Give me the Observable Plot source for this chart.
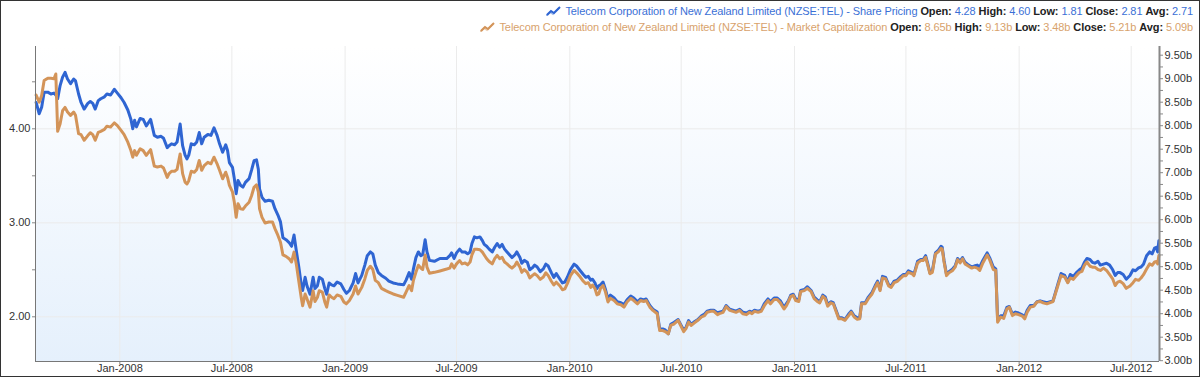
<!DOCTYPE html>
<html><head><meta charset="utf-8">
<script src="https://cdn.jsdelivr.net/npm/d3@7"></script>
<script src="https://cdn.jsdelivr.net/npm/@observablehq/plot@0.6"></script>
<style>
body{margin:0;background:#fff;}
#wrap{position:relative;width:1200px;height:377px;overflow:hidden;font-family:"Liberation Sans",Arial,sans-serif;background:#fff;}
#frame{position:absolute;left:0;top:0;width:1200px;height:377px;box-sizing:border-box;border:1px solid #333;pointer-events:none;}
#legend{height:40px;position:relative;}
.lg{position:absolute;right:7px;font-size:11px;letter-spacing:-0.1px;white-space:nowrap;line-height:14px;display:flex;align-items:center;}
.lg b{color:#222;font-weight:bold;}
.lg svg{margin-right:4px;}
#chart svg{display:block;}
</style></head>
<body><div id="wrap"><div id="legend"></div><div id="chart"></div><div id="frame"></div></div>
<script>
// ---- data ----
const dates = [
"2007-08-18","2007-08-23","2007-08-27","2007-08-31","2007-09-06","2007-09-11","2007-09-16","2007-09-19","2007-09-22","2007-09-26","2007-09-30","2007-10-04","2007-10-08","2007-10-13","2007-10-18","2007-10-21","2007-10-26","2007-10-30","2007-11-04","2007-11-10","2007-11-14","2007-11-18","2007-11-22","2007-11-27","2007-12-01","2007-12-07","2007-12-11","2007-12-17","2007-12-23","2007-12-28",
"2008-01-03","2008-01-08","2008-01-14","2008-01-19","2008-01-22","2008-01-25","2008-01-28","2008-02-03","2008-02-08","2008-02-13","2008-02-20","2008-02-26","2008-03-02","2008-03-08","2008-03-12","2008-03-18","2008-03-21","2008-03-25","2008-03-30","2008-04-03","2008-04-08","2008-04-12","2008-04-16","2008-04-19","2008-04-22","2008-04-26","2008-05-01","2008-05-05","2008-05-09","2008-05-13","2008-05-17","2008-05-23","2008-05-28","2008-06-02","2008-06-07","2008-06-11","2008-06-16","2008-06-21","2008-06-24","2008-06-27","2008-07-02","2008-07-05","2008-07-08","2008-07-11","2008-07-15","2008-07-19","2008-07-23","2008-07-29","2008-08-02","2008-08-06","2008-08-10","2008-08-13","2008-08-15","2008-08-19","2008-08-24","2008-08-30","2008-09-05","2008-09-09","2008-09-14","2008-09-18","2008-09-22","2008-09-27","2008-10-02","2008-10-06","2008-10-10","2008-10-14","2008-10-18","2008-10-22","2008-10-24","2008-10-28","2008-10-31","2008-11-05","2008-11-10","2008-11-13","2008-11-17","2008-11-20","2008-11-25","2008-11-29","2008-12-02","2008-12-06","2008-12-10","2008-12-14","2008-12-19","2008-12-25","2008-12-30",
"2009-01-03","2009-01-08","2009-01-14","2009-01-18","2009-01-22","2009-01-28","2009-02-02","2009-02-06","2009-02-11","2009-02-15","2009-02-19","2009-02-24","2009-03-01","2009-03-08","2009-03-13","2009-03-20","2009-03-27","2009-04-06","2009-04-10","2009-04-15","2009-04-19","2009-04-22","2009-04-26","2009-04-30","2009-05-04","2009-05-07","2009-05-11","2009-05-14","2009-05-18","2009-05-26","2009-06-04","2009-06-15","2009-06-20","2009-06-23","2009-06-27","2009-07-01","2009-07-06","2009-07-10","2009-07-15","2009-07-19","2009-07-23","2009-07-26","2009-07-30","2009-08-03","2009-08-08","2009-08-12","2009-08-15","2009-08-19","2009-08-23","2009-08-28","2009-09-01","2009-09-05","2009-09-09","2009-09-13","2009-09-17","2009-09-21","2009-09-25","2009-09-29","2009-10-04","2009-10-07","2009-10-12","2009-10-15","2009-10-19","2009-10-24","2009-10-28","2009-11-01","2009-11-05","2009-11-09","2009-11-14","2009-11-19","2009-11-23","2009-11-27","2009-12-02","2009-12-06","2009-12-10","2009-12-16","2009-12-20","2009-12-24","2009-12-28",
"2010-01-02","2010-01-08","2010-01-12","2010-01-18","2010-01-23","2010-01-27","2010-01-31","2010-02-04","2010-02-07","2010-02-11","2010-02-14","2010-02-17","2010-02-20","2010-02-24","2010-02-28","2010-03-04","2010-03-08","2010-03-14","2010-03-19","2010-03-25","2010-03-30","2010-04-04","2010-04-10","2010-04-15","2010-04-21","2010-04-26","2010-05-01","2010-05-05","2010-05-11","2010-05-16","2010-05-23","2010-05-27","2010-06-01","2010-06-05","2010-06-10","2010-06-14","2010-06-19","2010-06-26","2010-06-30","2010-07-05","2010-07-09","2010-07-13","2010-07-17","2010-07-23","2010-07-28","2010-08-03","2010-08-08","2010-08-12","2010-08-18","2010-08-23","2010-08-29","2010-09-01","2010-09-07","2010-09-12","2010-09-18","2010-09-23","2010-09-28","2010-10-04","2010-10-09","2010-10-15","2010-10-20","2010-10-24","2010-10-28","2010-11-03","2010-11-08","2010-11-13","2010-11-19","2010-11-23","2010-11-29","2010-12-04","2010-12-09","2010-12-15","2010-12-19","2010-12-22","2010-12-26","2010-12-30",
"2011-01-03","2011-01-08","2011-01-11","2011-01-17","2011-01-22","2011-01-28","2011-02-02","2011-02-07","2011-02-11","2011-02-16","2011-02-20","2011-02-24","2011-03-01","2011-03-05","2011-03-09","2011-03-14","2011-03-19","2011-03-24","2011-03-30","2011-04-03","2011-04-08","2011-04-13","2011-04-17","2011-04-20","2011-04-26","2011-05-01","2011-05-07","2011-05-12","2011-05-16","2011-05-20","2011-05-24","2011-05-29","2011-06-03","2011-06-07","2011-06-12","2011-06-17","2011-06-23","2011-06-27","2011-07-01","2011-07-05","2011-07-11","2011-07-14","2011-07-20","2011-07-25","2011-07-29","2011-08-02","2011-08-05","2011-08-09","2011-08-13","2011-08-18","2011-08-23","2011-08-27","2011-08-29","2011-09-01","2011-09-05","2011-09-09","2011-09-15","2011-09-19","2011-09-23","2011-09-27","2011-10-01","2011-10-05","2011-10-11","2011-10-16","2011-10-20","2011-10-25","2011-10-29","2011-11-03","2011-11-10","2011-11-14","2011-11-20","2011-11-24","2011-11-27","2011-12-02","2011-12-07","2011-12-12","2011-12-16","2011-12-21","2011-12-26","2011-12-31",
"2012-01-06","2012-01-10","2012-01-14","2012-01-19","2012-01-25","2012-01-30","2012-02-04","2012-02-09","2012-02-15","2012-02-25","2012-03-04","2012-03-09","2012-03-15","2012-03-20","2012-03-24","2012-03-29","2012-04-03","2012-04-08","2012-04-12","2012-04-16","2012-04-20","2012-04-25","2012-04-29","2012-05-03","2012-05-08","2012-05-12","2012-05-17","2012-05-22","2012-05-27","2012-06-01","2012-06-05","2012-06-09","2012-06-13","2012-06-18","2012-06-23","2012-06-29","2012-07-04","2012-07-08","2012-07-13","2012-07-17","2012-07-21","2012-07-26","2012-07-31","2012-08-04","2012-08-08","2012-08-11","2012-08-13","2012-08-15"
];
const price = [
4.28,4.16,4.23,4.39,4.39,4.37,4.38,4.36,4.32,4.46,4.55,4.60,4.53,4.48,4.53,4.51,4.37,4.28,4.21,4.27,4.29,4.27,4.21,4.30,4.32,4.34,4.37,4.36,4.42,4.38,
4.33,4.28,4.20,4.10,4.00,4.09,4.02,4.11,4.10,4.03,4.10,3.93,3.91,3.92,3.90,3.80,3.82,3.84,3.83,3.86,4.05,3.82,3.72,3.68,3.72,3.84,3.83,3.86,3.96,3.84,3.91,3.94,3.93,4.01,3.93,3.84,3.75,3.83,3.77,3.64,3.59,3.47,3.31,3.45,3.40,3.38,3.43,3.47,3.56,3.66,3.67,3.57,3.36,3.27,3.23,3.24,3.23,3.15,3.08,3.01,2.84,2.82,2.79,2.75,2.87,2.69,2.52,2.33,2.28,2.42,2.33,2.24,2.42,2.30,2.33,2.42,2.40,2.30,2.24,2.36,2.34,2.33,2.37,2.35,2.29,
2.25,2.28,2.36,2.46,2.36,2.44,2.55,2.65,2.69,2.67,2.55,2.47,2.44,2.41,2.38,2.36,2.35,2.34,2.39,2.47,2.40,2.51,2.63,2.69,2.65,2.66,2.82,2.69,2.60,2.59,2.62,2.62,2.65,2.68,2.62,2.68,2.72,2.69,2.69,2.67,2.69,2.78,2.85,2.84,2.85,2.81,2.77,2.75,2.72,2.69,2.74,2.78,2.74,2.77,2.72,2.69,2.66,2.63,2.66,2.69,2.63,2.57,2.60,2.58,2.50,2.52,2.55,2.53,2.48,2.51,2.56,2.54,2.47,2.42,2.46,2.40,2.36,2.37,2.42,
2.50,2.56,2.54,2.49,2.45,2.42,2.43,2.39,2.40,2.36,2.30,2.33,2.34,2.37,2.29,2.19,2.23,2.20,2.16,2.15,2.13,2.18,2.22,2.20,2.16,2.19,2.18,2.19,2.12,2.08,2.05,1.87,1.87,1.86,1.82,1.92,1.94,1.97,1.92,1.86,1.89,1.96,1.92,1.95,1.97,2.01,2.03,2.06,2.07,2.07,2.04,2.05,2.06,2.12,2.08,2.07,2.06,2.08,2.05,2.04,2.06,2.05,2.07,2.06,2.07,2.14,2.19,2.16,2.20,2.20,2.17,2.10,2.14,2.17,2.23,2.24,
2.19,2.18,2.28,2.29,2.32,2.28,2.21,2.18,2.16,2.23,2.21,2.13,2.16,2.15,2.08,1.99,1.99,1.97,2.03,2.06,2.01,1.99,1.99,2.15,2.15,2.21,2.26,2.33,2.38,2.29,2.43,2.42,2.34,2.33,2.38,2.39,2.43,2.45,2.45,2.49,2.47,2.45,2.59,2.61,2.61,2.65,2.58,2.47,2.49,2.68,2.71,2.75,2.74,2.60,2.45,2.48,2.51,2.54,2.62,2.59,2.63,2.58,2.55,2.53,2.54,2.55,2.53,2.60,2.68,2.63,2.53,2.51,1.97,2.01,2.01,2.10,2.11,2.03,2.05,2.04,
2.02,2.00,2.07,2.12,2.12,2.16,2.17,2.16,2.15,2.17,2.35,2.46,2.44,2.37,2.45,2.43,2.47,2.50,2.52,2.58,2.62,2.61,2.58,2.57,2.59,2.55,2.56,2.57,2.55,2.50,2.44,2.47,2.47,2.45,2.40,2.44,2.50,2.49,2.52,2.53,2.56,2.65,2.69,2.67,2.73,2.74,2.69,2.81
];
const mcap = [
8.65,8.50,8.64,8.96,9.01,9.01,9.00,9.10,7.88,8.04,8.32,8.39,8.29,8.22,8.29,8.22,7.83,7.81,7.69,7.79,7.85,7.81,7.69,7.86,7.88,7.92,7.99,7.97,8.06,8.00,
7.90,7.81,7.65,7.47,7.33,7.47,7.37,7.51,7.47,7.37,7.49,7.14,7.12,7.14,7.10,6.90,6.98,7.03,7.03,7.07,7.40,6.98,6.80,6.76,6.83,7.03,7.01,7.07,7.26,7.05,7.15,7.22,7.19,7.33,7.19,7.05,6.87,7.01,6.90,6.73,6.59,6.37,6.05,6.34,6.23,6.22,6.29,6.37,6.51,6.69,6.74,6.59,6.23,6.05,5.93,5.95,5.95,5.81,5.66,5.52,5.25,5.22,5.17,5.10,5.31,5.03,4.67,4.32,4.17,4.42,4.32,4.14,4.49,4.26,4.35,4.49,4.46,4.25,4.14,4.40,4.35,4.32,4.40,4.37,4.25,
4.21,4.28,4.42,4.59,4.42,4.56,4.74,4.92,5.01,4.94,4.71,4.66,4.54,4.49,4.46,4.42,4.39,4.35,4.46,4.60,4.49,4.71,4.88,5.03,4.97,4.94,5.25,4.99,4.86,4.88,4.91,4.95,4.97,5.06,4.97,5.06,5.13,5.06,5.08,5.04,5.10,5.25,5.37,5.37,5.36,5.31,5.25,5.17,5.11,5.06,5.17,5.24,5.17,5.20,5.10,5.06,5.01,4.97,5.03,5.10,4.99,4.88,4.94,4.88,4.76,4.81,4.85,4.81,4.73,4.78,4.87,4.81,4.69,4.61,4.67,4.59,4.51,4.53,4.64,
4.81,4.92,4.87,4.78,4.69,4.64,4.66,4.56,4.61,4.53,4.40,4.42,4.54,4.60,4.46,4.25,4.33,4.28,4.21,4.19,4.14,4.25,4.33,4.28,4.21,4.28,4.26,4.28,4.14,4.07,4.00,3.64,3.64,3.62,3.57,3.75,3.78,3.86,3.75,3.62,3.69,3.82,3.75,3.81,3.86,3.93,3.96,4.03,4.05,4.05,3.98,4.00,4.03,4.15,4.07,4.05,4.03,4.07,4.00,3.98,4.03,4.00,4.05,4.03,4.05,4.17,4.28,4.21,4.30,4.30,4.23,4.10,4.17,4.25,4.37,4.39,
4.28,4.26,4.47,4.49,4.54,4.47,4.32,4.26,4.23,4.37,4.32,4.16,4.23,4.21,4.07,3.89,3.89,3.86,3.96,4.03,3.93,3.88,3.89,4.21,4.21,4.32,4.42,4.56,4.66,4.49,4.76,4.74,4.59,4.56,4.66,4.69,4.76,4.81,4.81,4.88,4.85,4.81,5.08,5.13,5.13,5.20,5.06,4.85,4.88,5.27,5.32,5.39,5.38,5.10,4.81,4.87,4.92,4.99,5.15,5.08,5.17,5.06,5.01,4.97,4.99,4.97,4.92,5.08,5.25,5.15,4.94,4.92,3.82,3.93,3.90,4.10,4.14,3.96,4.00,3.98,
3.95,3.89,4.03,4.14,4.16,4.25,4.26,4.23,4.21,4.26,4.60,4.81,4.78,4.66,4.76,4.73,4.81,4.88,4.90,5.03,5.10,5.01,4.99,4.99,4.94,4.92,4.97,4.92,4.83,4.74,4.60,4.67,4.69,4.64,4.54,4.59,4.66,4.73,4.71,4.76,4.83,4.95,5.06,5.03,5.10,5.11,5.06,5.24
];
// axis ticks
const xTickDates = ["2008-01-01","2008-07-01","2009-01-01","2009-07-01","2010-01-01","2010-07-01","2011-01-01","2011-07-01","2012-01-01","2012-07-01"];
const leftTicks = [2.0, 2.5, 3.0, 3.5, 4.0, 4.5];
const leftLabeled = [2.0, 3.0, 4.0];
const rightTicks = [3.00,3.25,3.50,3.75,4.00,4.25,4.50,4.75,5.00,5.25,5.50,5.75,6.00,6.25,6.50,6.75,7.00,7.25,7.50,7.75,8.00,8.25,8.50,8.75,9.00,9.25,9.50];
// legend
const seriesNames = ["Telecom Corporation of New Zealand Limited (NZSE:TEL) - Share Pricing","Telecom Corporation of New Zealand Limited (NZSE:TEL) - Market Capitalization"];
const statLabels = ["Open:","High:","Low:","Close:","Avg:"];
const priceStats = ["4.28","4.60","1.81","2.81","2.71"];
const mcapStats = ["8.65b","9.13b","3.48b","5.21b","5.09b"];

const BLUE = "#2f65d2", ORANGE = "#d39459";
const BLUE_TXT = "#3a6fd6", ORANGE_TXT = "#d8a26c";

// ---- legend ----
const legend = document.getElementById("legend");
function icon(color){
  return `<svg width="15" height="10" viewBox="0 0 15 10"><polyline points="1,9 5,5 8,7 14,1" fill="none" stroke="${color}" stroke-opacity="0.45" stroke-width="2" transform="translate(-1,1)"/><polyline points="1,9 5,5 8,7 14,1" fill="none" stroke="${color}" stroke-width="2"/></svg>`;
}
[[seriesNames[0], priceStats, BLUE, BLUE_TXT, 4],[seriesNames[1], mcapStats, ORANGE, ORANGE_TXT, 20]].forEach(([name, stats, c, tc, top])=>{
  const div = document.createElement("div");
  div.className = "lg";
  div.style.top = top + "px";
  let html = icon(c) + `<span style="color:${tc}">${name}</span>`;
  statLabels.forEach((l,i)=>{ html += `&nbsp;<b>${l}</b>&nbsp;<span style="color:${tc}">${stats[i]}</span>`; });
  div.innerHTML = `<span>${html}</span>`;
  div.firstChild.style.display = "flex";
  div.firstChild.style.alignItems = "center";
  legend.appendChild(div);
});

// ---- chart ----
const parse = d3.utcParse("%Y-%m-%d");
const data = dates.map((d,i)=>({date: parse(d), price: price[i], mcap: mcap[i]}));
const leftDomain = [1.5245, 4.8755];
const rightDomain = [2.983, 9.685];
const toLeft = d3.scaleLinear(rightDomain, leftDomain);
const xTicks = xTickDates.map(parse);
const x0 = parse("2007-08-17"), x1 = parse("2012-08-16");
const isHalf = v => Math.abs(v*2 - Math.round(v*2)) < 1e-6;

const chart = Plot.plot({
  width: 1200, height: 337,
  marginTop: 6, marginBottom: 16, marginLeft: 35, marginRight: 41,
  x: {type: "utc", domain: [x0, x1], label: null},
  y: {domain: leftDomain, label: null},
  style: {fontFamily: "'Liberation Sans', Arial, sans-serif", fontSize: "11px", color: "#333", background: "transparent"},
  marks: [
    Plot.frame({fill: "white", stroke: null}),
    Plot.gridY(leftLabeled, {stroke: "#ebebeb", strokeOpacity: 1}),
    Plot.gridX(xTicks, {stroke: "#ebebeb", strokeOpacity: 1}),
    Plot.line(data, {x: "date", y: "price", stroke: BLUE, strokeWidth: 3, strokeLinejoin: "round"}),
    Plot.line(data, {x: "date", y: d => toLeft(d.mcap), stroke: ORANGE, strokeWidth: 3, strokeLinejoin: "round"}),
    Plot.axisY(leftTicks, {anchor: "left", tickSize: 3, tickPadding: 2, stroke: "#888", fill: "#333",
      tickFormat: d => leftLabeled.includes(d) ? d.toFixed(2) : ""}),
    Plot.axisY(rightTicks.map(v => toLeft(v)), {anchor: "right", tickSize: 3, tickPadding: 2, stroke: "#888", fill: "#333",
      tickFormat: d => { const v = toLeft.invert(d); return isHalf(v) ? (Math.round(v*2)/2).toFixed(2) + "b" : ""; }}),
    Plot.axisX(xTicks, {anchor: "bottom", tickSize: 3, tickPadding: 0, stroke: "#888", fill: "#333",
      tickFormat: d3.utcFormat("%b-%Y")}),
    Plot.ruleX([x0], {stroke: "#777"}),
    Plot.ruleX([x1], {stroke: "#888", strokeWidth: 2}),
    Plot.ruleY([leftDomain[0]], {stroke: "#777"})
  ]
});
// gradient background for the frame
const NS = "http://www.w3.org/2000/svg";
const defs = document.createElementNS(NS, "defs");
defs.innerHTML = '<linearGradient id="bgGrad" x1="0" y1="0" x2="0" y2="1"><stop offset="0" stop-color="#ffffff"/><stop offset="1" stop-color="#e5f0fc"/></linearGradient>';
chart.insertBefore(defs, chart.firstChild);
const fr = chart.querySelector('[aria-label="frame"]');
if (fr) { const r = fr.tagName.toLowerCase() === "rect" ? fr : fr.querySelector("rect"); if (r) r.setAttribute("fill", "url(#bgGrad)"); }
document.getElementById("chart").appendChild(chart);
</script>
</body></html>
